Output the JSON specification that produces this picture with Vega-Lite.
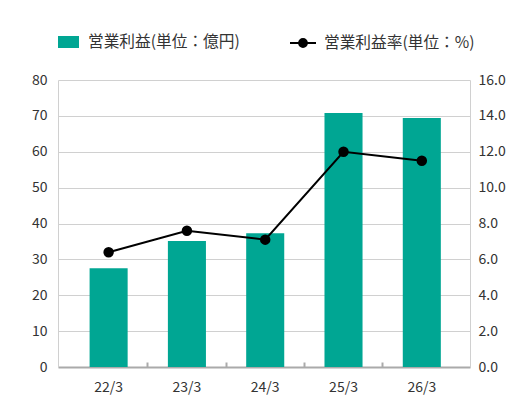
{
  "$schema": "https://vega.github.io/schema/vega-lite/v6.json",
  "autosize": {"type": "none"},
  "padding": {"left": 58, "top": 80, "right": 61, "bottom": 49},
  "width": 412,
  "height": 287,
  "background": "white",
  "config": {
    "font": "Noto Sans CJK JP",
    "view": {"stroke": null},
    "axis": {"labelFont": "Noto Sans CJK JP", "labelColor": "#333", "labelFontSize": 14, "title": null},
    "legend": {"labelFont": "Noto Sans CJK JP", "labelColor": "#333", "labelFontSize": 15.7}
  },
  "data": {
    "values": [
      {"year": "22/3", "profit": 27.5, "rate": 6.4},
      {"year": "23/3", "profit": 35.1, "rate": 7.6},
      {"year": "24/3", "profit": 37.3, "rate": 7.1},
      {"year": "25/3", "profit": 70.8, "rate": 12.0},
      {"year": "26/3", "profit": 69.4, "rate": 11.5}
    ]
  },
  "encoding": {
    "x": {
      "field": "year",
      "type": "nominal",
      "sort": null,
      "scale": {"paddingInner": 0.514, "paddingOuter": 0.388, "align": 0.52},
      "axis": {
        "labelAngle": 0,
        "labelPadding": 18,
        "domainColor": "#aaaaaa",
        "domainWidth": 2,
        "tickColor": "#aaaaaa",
        "tickWidth": 2,
        "tickSize": -5,
        "bandPosition": -0.528,
        "tickOpacity": {"condition": {"test": "datum.value === '22/3'", "value": 0}, "value": 1}
      }
    }
  },
  "layer": [
    {
      "mark": {"type": "bar"},
      "encoding": {
        "y": {
          "field": "profit",
          "type": "quantitative",
          "scale": {"domain": [0, 80], "nice": false},
          "axis": {
            "orient": "left",
            "values": [0, 10, 20, 30, 40, 50, 60, 70, 80],
            "ticks": false,
            "tickSize": 0,
            "labelPadding": 11,
            "domainColor": "#d0d0d0",
            "gridColor": "#d0d0d0",
            "grid": true
          }
        },
        "color": {
          "datum": "営業利益(単位：億円)",
          "type": "nominal",
          "scale": {"range": ["#00a693"]},
          "legend": {
            "title": null,
            "orient": "none",
            "legendX": 0,
            "legendY": -48.5,
            "symbolType": "M-1,-0.57H1V0.57H-1Z",
            "symbolSize": 441,
            "symbolStrokeWidth": 0,
            "labelOffset": 9
          }
        }
      }
    },
    {
      "mark": {"type": "line", "strokeWidth": 2, "point": {"filled": true, "size": 72, "color": "#000000"}},
      "encoding": {
        "y": {
          "field": "rate",
          "type": "quantitative",
          "scale": {"domain": [0, 16], "nice": false},
          "axis": {
            "orient": "right",
            "values": [0, 2, 4, 6, 8, 10, 12, 14, 16],
            "format": ".1f",
            "ticks": false,
            "tickSize": 0,
            "labelPadding": 8,
            "domainColor": "#d0d0d0",
            "grid": false
          }
        },
        "stroke": {
          "datum": "営業利益率(単位：%)",
          "type": "nominal",
          "scale": {"range": ["#000000"]},
          "legend": {
            "title": null,
            "orient": "none",
            "legendX": 231,
            "legendY": -51,
            "symbolType": "M-1,0H1M0.3,0A0.3,0.3,0,1,1,-0.3,0A0.3,0.3,0,1,1,0.3,0Z",
            "symbolSize": 676,
            "symbolStrokeWidth": 2,
            "symbolFillColor": "#000000",
            "symbolStrokeColor": "#000000",
            "labelOffset": 7
          }
        }
      }
    }
  ],
  "resolve": {"scale": {"y": "independent"}}
}
